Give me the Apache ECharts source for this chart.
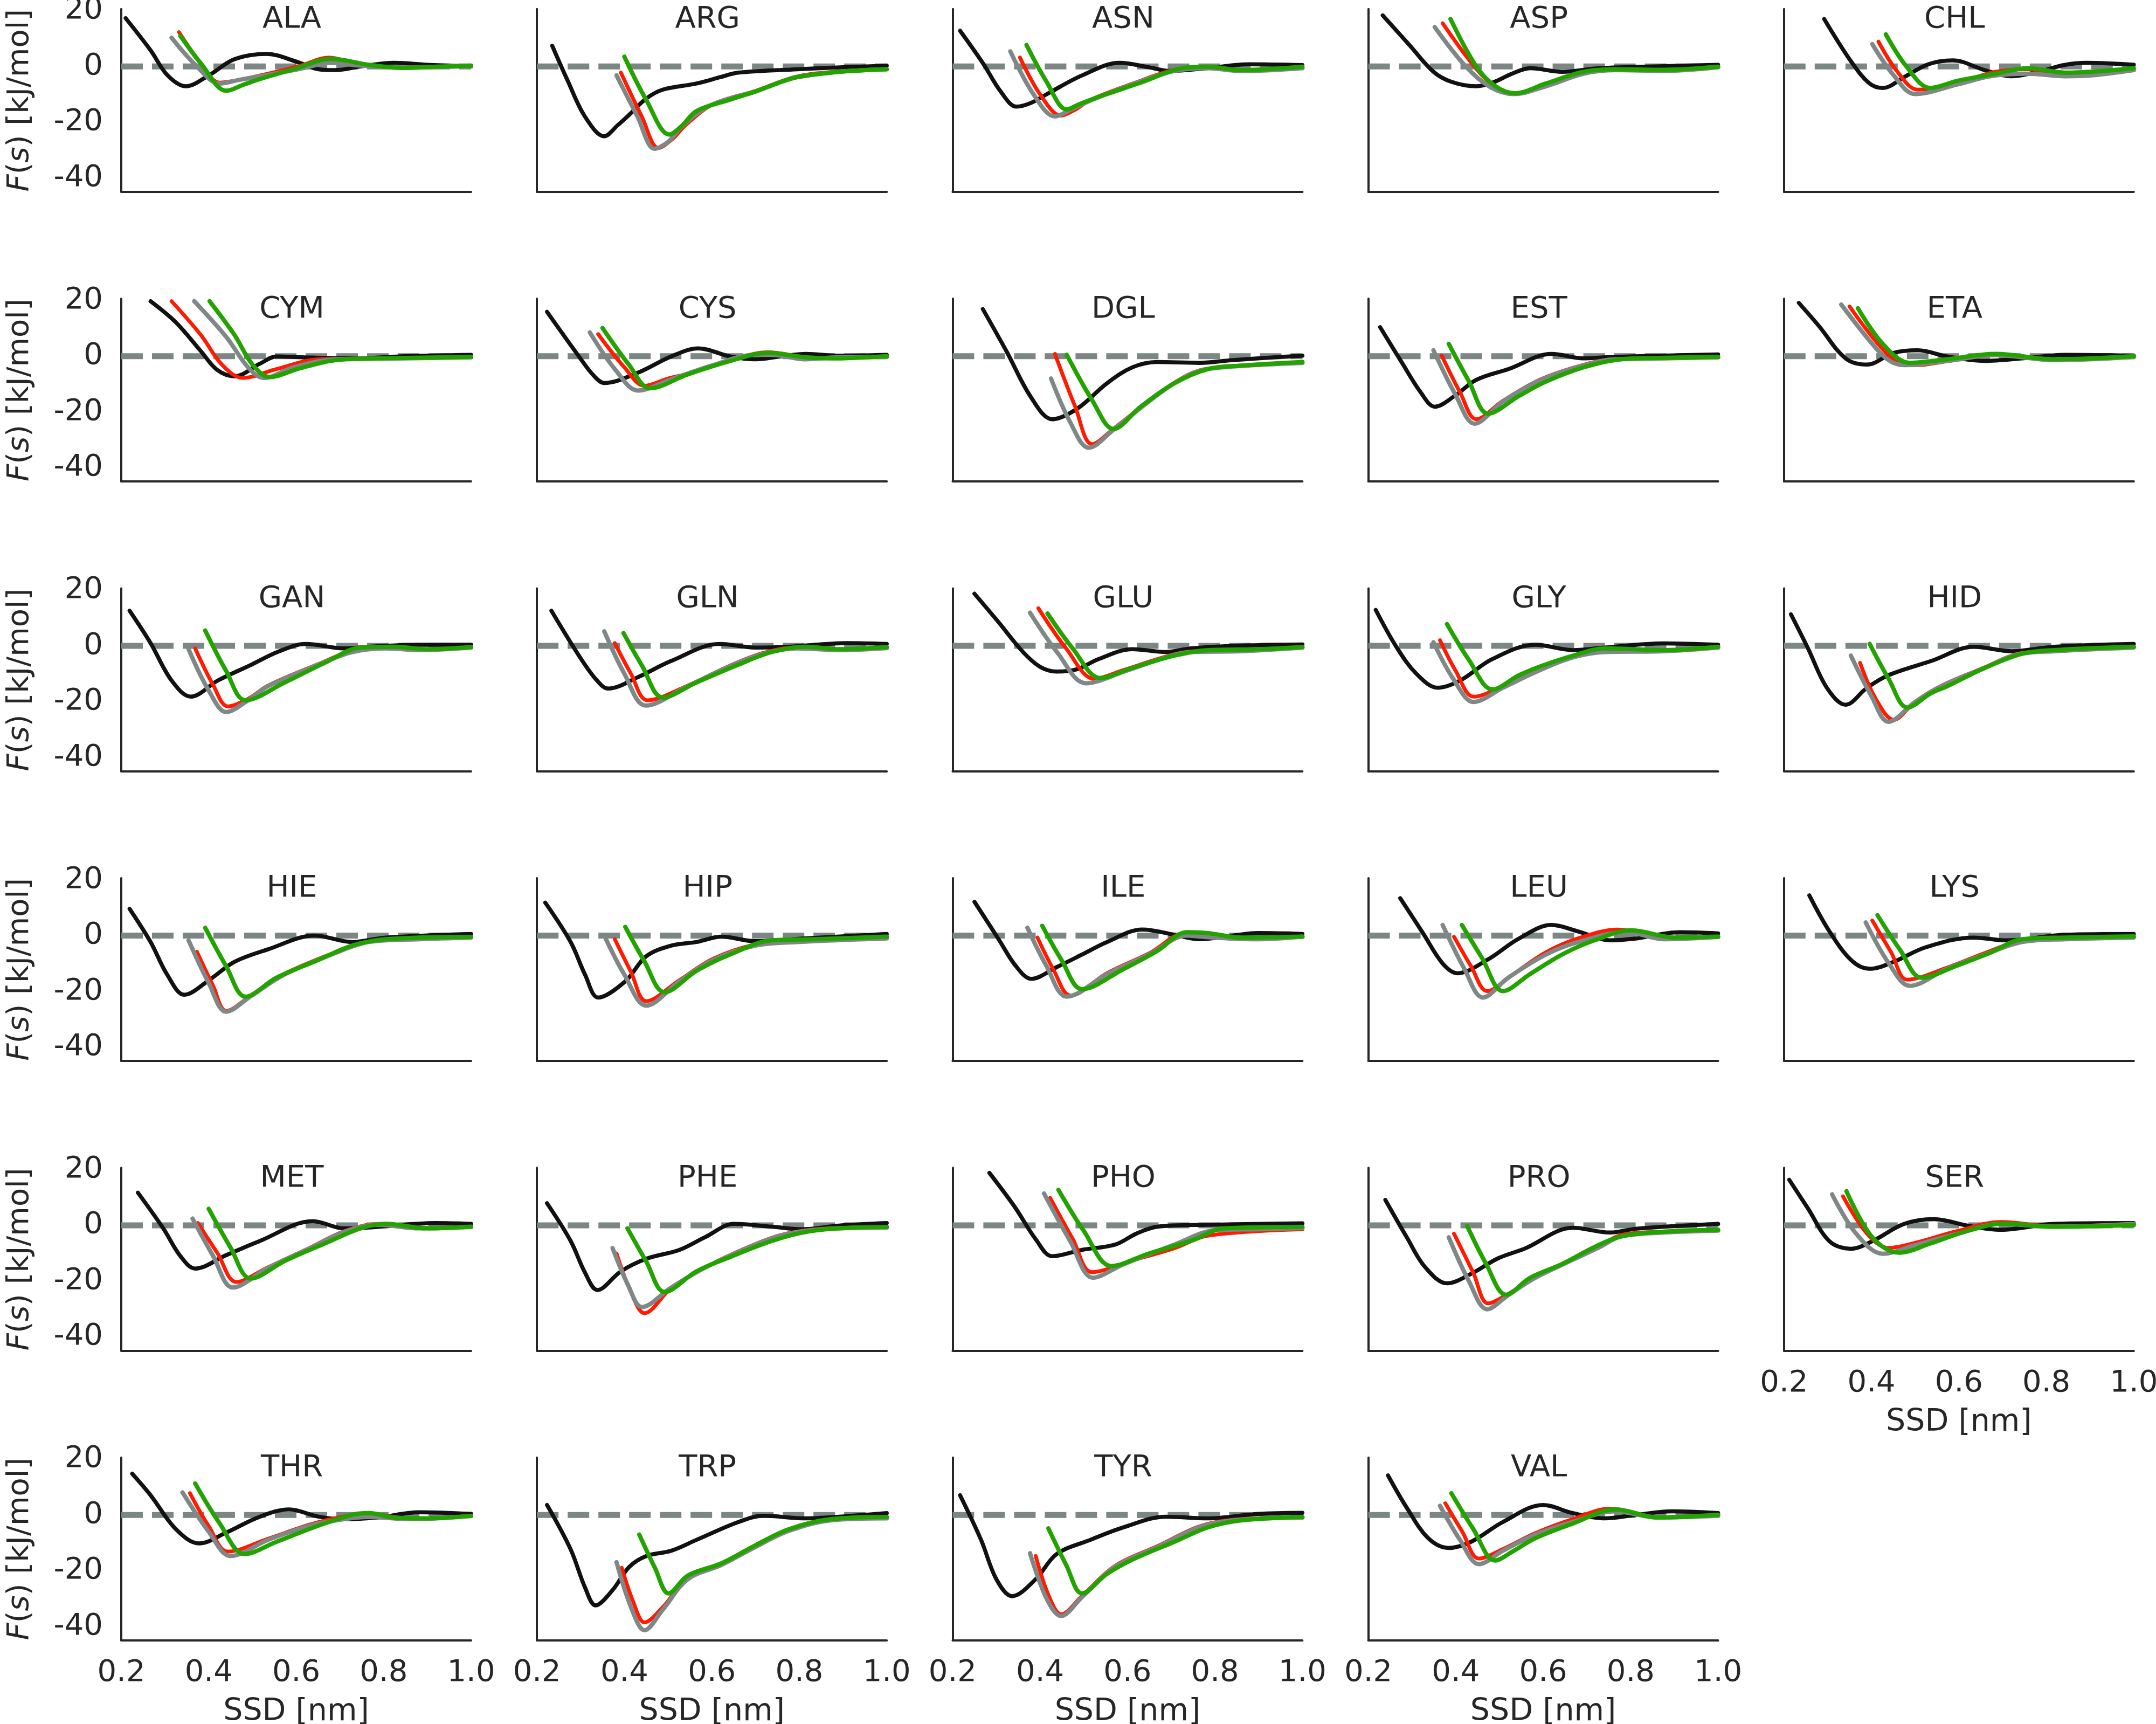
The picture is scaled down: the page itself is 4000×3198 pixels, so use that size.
<!DOCTYPE html>
<html>
<head>
<meta charset="utf-8">
<script src="https://cdn.jsdelivr.net/npm/echarts@6/dist/echarts.min.js"></script>
<style>
html,body{margin:0;padding:0;background:#fff;}
#chart{width:4000px;height:3198px;}
</style>
</head>
<body>
<div id="chart"></div>
<script>
// ---------------- data (x: SSD in nm, y: F(s) in kJ/mol) ----------------
const residues = ['ALA','ARG','ASN','ASP','CHL','CYM','CYS','DGL','EST','ETA','GAN','GLN','GLU','GLY','HID','HIE','HIP','ILE','LEU','LYS','MET','PHE','PHO','PRO','SER','THR','TRP','TYR','VAL'];
const xTicks = [0.2, 0.4, 0.6, 0.8, 1.0];
const yTicks = [-40, -20, 0, 20];
const zeroLine = [[0.2, 0], [1.0, 0]];

const ALA_black = [[0.21,17.3],[0.267,5.8],[0.306,-3.2],[0.348,-7.1],[0.40,-3.2],[0.459,2.6],[0.532,4.5],[0.603,1.6],[0.651,-1.0],[0.69,-1.3],[0.747,0],[0.824,1.3],[0.9,0.6],[1.0,0]];
const ALA_gray = [[0.315,10.3],[0.37,0.5],[0.425,-6.1],[0.47,-4.8],[0.536,-3.0],[0.61,-0.8],[0.68,1.3],[0.74,0.4],[0.843,-0.4],[0.92,-0.2],[1.0,0.1]];
const ALA_red = [[0.332,12.3],[0.38,1.5],[0.425,-5.8],[0.47,-4.8],[0.536,-2.6],[0.61,0.3],[0.675,3.2],[0.74,0.9],[0.843,-0.4],[1.0,0.2]];
const ALA_green = [[0.335,11.0],[0.385,0.5],[0.44,-8.7],[0.48,-6.5],[0.517,-4.5],[0.594,-1.0],[0.68,2.7],[0.766,0.6],[0.843,-0.5],[0.92,-0.1],[1.0,0.3]];

const ARG_black = [[0.235,7.4],[0.27,-5],[0.31,-18],[0.354,-25.0],[0.385,-21],[0.411,-17.3],[0.45,-11.5],[0.488,-8.3],[0.565,-6.1],[0.62,-3.8],[0.66,-2.2],[0.795,-1.0],[0.9,-0.3],[1.0,0.3]];
const ARG_gray = [[0.382,-3.2],[0.43,-18],[0.469,-29.5],[0.50,-27],[0.526,-22.4],[0.565,-17],[0.603,-13.5],[0.65,-11],[0.699,-9.0],[0.75,-6],[0.795,-3.8],[0.891,-1.9],[1.0,-1.0]];
const ARG_red = [[0.392,-2.2],[0.44,-18],[0.478,-29.2],[0.51,-26],[0.54,-21],[0.603,-13.5],[0.699,-8.8],[0.795,-3.6],[0.891,-1.8],[1.0,-0.9]];
const ARG_green = [[0.40,3.5],[0.45,-12],[0.503,-24.4],[0.53,-21.5],[0.565,-16],[0.641,-11.9],[0.699,-9.0],[0.75,-6],[0.795,-3.8],[0.891,-1.9],[1.0,-1.0]];

const ASN_black = [[0.217,12.8],[0.27,1],[0.31,-9],[0.346,-14.4],[0.38,-13],[0.419,-9.6],[0.496,-3.2],[0.582,1.3],[0.649,-0.3],[0.697,-1.6],[0.783,-0.6],[0.879,0.8],[1.0,0.5]];
const ASN_gray = [[0.332,5.4],[0.385,-10],[0.434,-17.9],[0.47,-15.5],[0.515,-12.2],[0.611,-6.4],[0.707,-1.6],[0.783,-0.6],[0.86,-1.6],[1.0,-0.6]];
const ASN_red = [[0.354,3.2],[0.40,-10],[0.448,-17.6],[0.48,-15.5],[0.515,-12],[0.611,-6.2],[0.707,-1.2],[0.783,-0.1],[0.86,-1.3],[1.0,-0.3]];
const ASN_green = [[0.369,7.7],[0.415,-5.5],[0.461,-15.4],[0.49,-13.5],[0.534,-10.9],[0.63,-5.8],[0.726,-0.6],[0.783,-0.1],[0.86,-1.3],[1.0,-0.1]];

const ASP_black = [[0.233,18.3],[0.294,7.7],[0.349,-1.9],[0.39,-5.5],[0.447,-7.1],[0.484,-5.8],[0.53,-2.5],[0.57,-0.6],[0.643,-1.9],[0.729,-0.6],[0.876,0.1],[1.0,0.6]];
const ASP_gray = [[0.352,14.1],[0.423,0],[0.48,-7.5],[0.533,-9.9],[0.606,-7.1],[0.692,-2.6],[0.765,-1.3],[0.876,-1.6],[1.0,-0.3]];
const ASP_red = [[0.37,15.5],[0.44,0.5],[0.49,-7.2],[0.539,-9.6],[0.606,-6.6],[0.692,-2.3],[0.765,-1.2],[0.876,-1.6],[1.0,-0.3]];
const ASP_green = [[0.388,17],[0.447,0],[0.49,-7],[0.535,-9.6],[0.606,-6.1],[0.692,-1.9],[0.765,-1.0],[0.876,-1.2],[1.0,-0.1]];

const CHL_black = [[0.292,17],[0.353,1.9],[0.395,-6],[0.426,-7.7],[0.475,-3.8],[0.53,0.8],[0.586,2.2],[0.659,-1.3],[0.72,-3.5],[0.781,-1.9],[0.84,0.5],[0.892,1.3],[1.0,0.6]];
const CHL_gray = [[0.402,8.0],[0.45,-3],[0.5,-9.9],[0.598,-6.4],[0.671,-3.5],[0.757,-2.6],[0.843,-3.5],[0.904,-3.2],[1.0,-1.3]];
const CHL_red = [[0.416,8.9],[0.46,-2],[0.506,-8.3],[0.598,-5.8],[0.683,-1.9],[0.757,-1.0],[0.843,-2.9],[1.0,-0.6]];
const CHL_green = [[0.433,11.5],[0.48,0],[0.534,-7.7],[0.598,-5.1],[0.683,-2.6],[0.757,-0.6],[0.843,-2.2],[1.0,-0.6]];

const CYM_black = [[0.267,19.7],[0.325,12.1],[0.382,1.8],[0.42,-5],[0.459,-7.2],[0.517,-2.7],[0.555,-0.1],[0.613,-0.4],[0.728,-0.8],[0.85,0],[1.0,0.5]];
const CYM_gray = [[0.367,19.7],[0.44,6.9],[0.49,-4],[0.526,-7.8],[0.594,-4.0],[0.69,-1.1],[0.85,-0.8],[1.0,-0.4]];
const CYM_red = [[0.315,19.7],[0.382,7.6],[0.43,-3],[0.478,-7.8],[0.555,-4.6],[0.651,-1.1],[0.785,-0.8],[1.0,-0.3]];
const CYM_green = [[0.402,19.7],[0.459,7.6],[0.50,-3],[0.54,-7.5],[0.603,-4.6],[0.69,-1.4],[0.785,-0.8],[1.0,-0.3]];

const CYS_black = [[0.223,15.9],[0.296,-0.1],[0.33,-7],[0.354,-9.6],[0.431,-5.9],[0.507,-0.1],[0.569,2.8],[0.642,-0.1],[0.7,-1.1],[0.76,0],[0.815,0.8],[0.891,0.2],[1.0,0.5]];
const CYS_gray = [[0.321,8.5],[0.38,-5],[0.431,-12.3],[0.507,-8.3],[0.603,-3.2],[0.699,0.5],[0.737,0.5],[0.814,-1.1],[0.891,-0.4],[1.0,-0.3]];
const CYS_red = [[0.34,7.9],[0.40,-4],[0.446,-10.6],[0.50,-8],[0.545,-6.3],[0.642,-1.5],[0.728,1.4],[0.814,-0.4],[0.872,-0.8],[1.0,0]];
const CYS_green = [[0.35,10.1],[0.41,-3],[0.459,-11.5],[0.545,-6.5],[0.642,-1.7],[0.728,1.2],[0.814,-0.4],[0.872,-0.8],[1.0,0]];

const DGL_black = [[0.269,16.9],[0.323,1.8],[0.38,-14.9],[0.428,-22.6],[0.486,-18.7],[0.553,-9.7],[0.611,-4.0],[0.668,-2.1],[0.764,-2.4],[0.841,-1.4],[1.0,0.2]];
const DGL_gray = [[0.425,-8.0],[0.47,-24],[0.511,-32.8],[0.572,-25.8],[0.649,-16.2],[0.707,-9.7],[0.764,-5.3],[0.841,-3.7],[1.0,-2.4]];
const DGL_red = [[0.434,0.8],[0.48,-18],[0.519,-31.5],[0.572,-25.5],[0.649,-16],[0.707,-9.5],[0.764,-5.1],[0.841,-3.6],[1.0,-2.2]];
const DGL_green = [[0.461,0.5],[0.52,-16],[0.568,-26.1],[0.63,-18.1],[0.707,-9.7],[0.784,-4.6],[0.86,-3.4],[1.0,-2.1]];

const EST_black = [[0.227,10.4],[0.276,-2.1],[0.32,-13],[0.352,-18.1],[0.398,-14.2],[0.447,-8.5],[0.521,-4.6],[0.619,0.8],[0.692,-0.8],[0.741,-0.4],[0.876,0.2],[1.0,0.6]];
const EST_gray = [[0.349,2.1],[0.40,-14],[0.443,-24.2],[0.508,-16.2],[0.594,-8.5],[0.692,-3.3],[0.765,-1.1],[0.876,-0.8],[1.0,-0.4]];
const EST_red = [[0.368,0.2],[0.41,-13],[0.447,-22.6],[0.508,-16],[0.594,-8.3],[0.692,-3.1],[0.765,-1.0],[0.876,-0.8],[1.0,-0.4]];
const EST_green = [[0.384,4.4],[0.43,-9],[0.474,-20.6],[0.545,-14.2],[0.606,-9.1],[0.692,-4.0],[0.778,-1.1],[0.876,-0.6],[1.0,-0.3]];

const ETA_black = [[0.234,19.1],[0.28,10.8],[0.341,-0.8],[0.39,-3.0],[0.451,1.2],[0.506,2.1],[0.573,-0.1],[0.659,-1.7],[0.745,-0.8],[0.843,0.5],[1.0,0.2]];
const ETA_gray = [[0.331,18.5],[0.402,4.4],[0.44,-1.5],[0.475,-3.2],[0.573,-1.7],[0.684,0.4],[0.818,-1.4],[1.0,-0.3]];
const ETA_red = [[0.35,17.8],[0.415,4.4],[0.46,-2],[0.506,-3.2],[0.573,-1.8],[0.684,0.5],[0.818,-1.4],[1.0,-0.3]];
const ETA_green = [[0.369,17.2],[0.426,4.4],[0.488,-2.4],[0.573,-1.1],[0.684,0.8],[0.818,-1.1],[1.0,0]];

const GAN_black = [[0.219,12.6],[0.267,1.0],[0.315,-12.4],[0.359,-18.2],[0.421,-12.4],[0.498,-6.7],[0.56,-2],[0.622,0.7],[0.709,-0.9],[0.766,-0.3],[0.881,0.4],[1.0,0.4]];
const GAN_gray = [[0.354,-1.2],[0.40,-16],[0.44,-23.7],[0.49,-19.5],[0.536,-14.4],[0.651,-6.7],[0.728,-2.2],[0.805,-0.9],[0.881,-1.5],[1.0,-0.6]];
const GAN_red = [[0.369,-0.9],[0.41,-14],[0.444,-21.7],[0.49,-19],[0.536,-14.2],[0.651,-6.5],[0.728,-1.8],[0.805,-0.5],[0.881,-1.3],[1.0,-0.5]];
const GAN_green = [[0.392,5.5],[0.44,-9],[0.484,-19.5],[0.574,-13.1],[0.67,-5.7],[0.747,-0.6],[0.824,-0.3],[0.9,-1.2],[1.0,-0.4]];

const GLN_black = [[0.233,12.6],[0.296,-3.5],[0.335,-12],[0.363,-15.3],[0.431,-11.2],[0.507,-5.4],[0.618,0.7],[0.699,-0.6],[0.776,-0.3],[0.91,1.0],[1.0,0.7]];
const GLN_gray = [[0.354,5.2],[0.40,-10],[0.449,-21.4],[0.545,-14.4],[0.641,-7.3],[0.718,-2.8],[0.795,-0.9],[0.891,-1.5],[1.0,-0.8]];
const GLN_red = [[0.378,1.0],[0.415,-10],[0.453,-19.5],[0.545,-14.2],[0.641,-7.1],[0.718,-2.5],[0.795,-0.5],[0.891,-1.3],[1.0,-0.6]];
const GLN_green = [[0.398,4.6],[0.44,-7],[0.488,-18.5],[0.565,-13.1],[0.661,-6.7],[0.737,-2.2],[0.814,-0.3],[0.891,-1.2],[1.0,-0.4]];

const GLU_black = [[0.25,18.7],[0.304,8.7],[0.361,-2.2],[0.40,-7.5],[0.438,-9.2],[0.486,-8.3],[0.534,-4.7],[0.611,-1.2],[0.688,-2.2],[0.745,-0.9],[0.86,0.1],[1.0,0.5]];
const GLU_gray = [[0.377,11.9],[0.44,-2.5],[0.505,-13.4],[0.592,-9.2],[0.688,-4.1],[0.745,-2.2],[0.86,-1.9],[1.0,-0.6]];
const GLU_red = [[0.396,13.5],[0.46,-1],[0.524,-11.8],[0.592,-8.6],[0.688,-3.8],[0.745,-2],[0.86,-1.6],[1.0,-0.5]];
const GLU_green = [[0.417,11.6],[0.475,-1],[0.538,-11.5],[0.611,-7.9],[0.707,-3.5],[0.784,-1.5],[0.899,-1.2],[1.0,-0.4]];

const GLY_black = [[0.217,12.9],[0.264,-0.3],[0.31,-10],[0.359,-15.0],[0.41,-12.4],[0.484,-4.7],[0.582,0.4],[0.668,-1.5],[0.741,-0.6],[0.876,0.9],[1.0,0.4]];
const GLY_gray = [[0.349,1.3],[0.395,-12],[0.441,-20.1],[0.508,-15.0],[0.594,-8.6],[0.668,-4.1],[0.741,-2.2],[0.876,-1.9],[1.0,-0.6]];
const GLY_red = [[0.364,2.0],[0.40,-9],[0.441,-18.2],[0.508,-14.5],[0.594,-8.3],[0.668,-3.6],[0.741,-1.5],[0.876,-1.6],[1.0,-0.5]];
const GLY_green = [[0.38,7.8],[0.43,-5],[0.484,-15.6],[0.545,-10.5],[0.594,-7.3],[0.668,-3.5],[0.741,-0.9],[0.876,-1.5],[1.0,-0.3]];

const HID_black = [[0.216,11.3],[0.255,-0.9],[0.298,-15.0],[0.341,-21.1],[0.39,-15.0],[0.439,-10.5],[0.537,-5.4],[0.634,-0.3],[0.72,-1.9],[0.818,-0.3],[1.0,0.7]];
const HID_gray = [[0.353,-3.5],[0.40,-18],[0.439,-27.2],[0.5,-20.1],[0.561,-14.4],[0.659,-7.9],[0.733,-3.1],[0.818,-1.9],[1.0,-0.6]];
const HID_red = [[0.374,-6.1],[0.41,-19],[0.451,-26.5],[0.5,-20],[0.561,-14.2],[0.659,-7.7],[0.733,-2.9],[0.818,-1.7],[1.0,-0.5]];
const HID_green = [[0.396,0.7],[0.44,-12],[0.482,-22.1],[0.537,-16.9],[0.574,-14.4],[0.659,-7.9],[0.745,-2.8],[0.818,-1.5],[1.0,-0.3]];

const HIE_black = [[0.219,9.6],[0.267,-2.3],[0.305,-14],[0.344,-21.2],[0.402,-15.8],[0.459,-9.4],[0.536,-4.9],[0.642,0],[0.728,-2.3],[0.805,-0.7],[1.0,0.6]];
const HIE_gray = [[0.354,-1.7],[0.40,-17],[0.44,-27.3],[0.498,-21.5],[0.575,-13.8],[0.69,-6.2],[0.766,-2.3],[0.881,-1.3],[1.0,-0.7]];
const HIE_red = [[0.373,-5.8],[0.41,-18],[0.44,-27.0],[0.498,-21.3],[0.575,-13.6],[0.69,-6],[0.766,-2.1],[0.881,-1.2],[1.0,-0.6]];
const HIE_green = [[0.392,2.8],[0.44,-11],[0.484,-21.9],[0.555,-15.1],[0.651,-8.7],[0.728,-3.6],[0.805,-1.3],[1.0,-0.5]];

const HIP_black = [[0.219,11.8],[0.277,-2.3],[0.31,-14],[0.34,-22.2],[0.402,-16.4],[0.45,-7.4],[0.507,-3.6],[0.565,-2.3],[0.622,-0.4],[0.699,-2.0],[0.814,-1.0],[1.0,0.6]];
const HIP_gray = [[0.357,-1.0],[0.40,-14],[0.45,-25.1],[0.526,-16.4],[0.603,-8.7],[0.699,-3.6],[0.795,-2.3],[1.0,-1.0]];
const HIP_red = [[0.378,-1.3],[0.415,-13],[0.45,-23.5],[0.526,-16],[0.603,-8.3],[0.699,-3.2],[0.795,-2.0],[1.0,-0.8]];
const HIP_green = [[0.402,3.1],[0.445,-9],[0.492,-20.3],[0.565,-12.6],[0.641,-6.8],[0.737,-1.7],[0.833,-1.3],[1.0,-0.4]];

const ILE_black = [[0.25,12.1],[0.304,-1.0],[0.345,-11],[0.38,-15.5],[0.438,-11.3],[0.496,-6.8],[0.553,-2.3],[0.634,2.2],[0.707,0.3],[0.764,-1.3],[0.83,-0.2],[0.899,0.9],[1.0,0.6]];
const ILE_gray = [[0.371,2.8],[0.415,-11],[0.461,-21.9],[0.553,-13.8],[0.649,-6.8],[0.736,0],[0.784,-0.6],[0.899,-1.3],[1.0,-0.4]];
const ILE_red = [[0.394,-0.7],[0.43,-12],[0.47,-21.5],[0.553,-13.5],[0.649,-6.4],[0.736,1.0],[0.784,0.5],[0.86,-0.9],[1.0,-0.4]];
const ILE_green = [[0.405,3.5],[0.45,-9],[0.496,-19.2],[0.592,-11.9],[0.668,-5.5],[0.736,1.2],[0.784,0.9],[0.86,-0.7],[1.0,-0.4]];

const LEU_black = [[0.273,13.4],[0.325,0.9],[0.37,-10],[0.404,-13.5],[0.472,-8.7],[0.545,-1.0],[0.619,3.8],[0.68,1.5],[0.753,-1.7],[0.814,-1.0],[0.912,1.2],[1.0,0.8]];
const LEU_gray = [[0.37,3.8],[0.42,-12],[0.462,-22.2],[0.52,-15.1],[0.606,-6.8],[0.68,-2.3],[0.79,1.2],[0.876,-1.3],[1.0,-0.5]];
const LEU_red = [[0.396,-0.4],[0.435,-11],[0.472,-19.9],[0.53,-14],[0.606,-6],[0.68,-1],[0.771,2.2],[0.876,-1.1],[1.0,-0.4]];
const LEU_green = [[0.414,3.8],[0.46,-8],[0.508,-19.9],[0.57,-13.8],[0.643,-6.8],[0.717,-1.7],[0.802,1.9],[0.9,-0.7],[1.0,-0.4]];

const LYS_black = [[0.258,14.4],[0.304,1.5],[0.355,-9],[0.396,-11.9],[0.451,-9.4],[0.524,-4.2],[0.634,-0.7],[0.708,-1.7],[0.843,0.3],[1.0,0.6]];
const LYS_gray = [[0.387,4.7],[0.44,-10],[0.488,-18.0],[0.573,-11.9],[0.659,-6.8],[0.745,-2.3],[0.843,-1.3],[1.0,-0.7]];
const LYS_red = [[0.402,5.4],[0.445,-6],[0.482,-15.8],[0.573,-11.5],[0.659,-6.3],[0.745,-1.8],[0.843,-1],[1.0,-0.5]];
const LYS_green = [[0.414,7.3],[0.465,-5],[0.515,-15.1],[0.598,-10.6],[0.671,-6.2],[0.745,-1.3],[0.843,-0.7],[1.0,-0.3]];

const MET_black = [[0.238,11.7],[0.296,-1.1],[0.335,-11],[0.369,-15.5],[0.44,-10.7],[0.517,-5.6],[0.638,1.5],[0.709,-1.1],[0.766,-0.8],[0.92,0.8],[1.0,0.5]];
const MET_gray = [[0.363,2.4],[0.41,-11],[0.455,-22.3],[0.536,-15.2],[0.632,-8.2],[0.709,-2.4],[0.786,0.2],[0.882,-1.1],[1.0,-0.6]];
const MET_red = [[0.375,0.8],[0.42,-10],[0.463,-20.3],[0.536,-15],[0.632,-8],[0.709,-2.2],[0.786,0.4],[0.882,-1],[1.0,-0.5]];
const MET_green = [[0.40,5.9],[0.45,-8],[0.496,-19.1],[0.575,-12.7],[0.67,-6.2],[0.747,-1.1],[0.805,0.5],[0.9,-1.1],[1.0,-0.5]];

const PHE_black = [[0.223,7.9],[0.277,-5.6],[0.31,-17],[0.338,-23.2],[0.392,-16.5],[0.45,-12.0],[0.526,-8.8],[0.584,-4.3],[0.651,0.5],[0.737,-0.5],[0.805,-1.4],[0.891,-0.1],[1.0,0.8]];
const PHE_gray = [[0.373,-8.2],[0.41,-22],[0.44,-29.3],[0.507,-22.3],[0.584,-15.2],[0.661,-9.5],[0.757,-3.7],[0.853,-1.4],[1.0,-0.8]];
const PHE_red = [[0.382,-10.1],[0.415,-24],[0.446,-31.5],[0.507,-22.5],[0.584,-15.2],[0.661,-9.3],[0.757,-3.5],[0.853,-1.2],[1.0,-0.7]];
const PHE_green = [[0.407,-1.1],[0.45,-13],[0.492,-23.9],[0.565,-16.5],[0.641,-11.4],[0.737,-5.6],[0.814,-2.4],[0.891,-1.1],[1.0,-0.6]];

const PHO_black = [[0.284,18.8],[0.342,6.6],[0.39,-5.0],[0.428,-11.1],[0.496,-8.8],[0.572,-6.9],[0.62,-3],[0.668,-0.5],[0.784,0.2],[1.0,0.7]];
const PHO_gray = [[0.409,11.4],[0.47,-6],[0.521,-18.8],[0.592,-13.9],[0.707,-6.9],[0.803,-1.7],[0.899,-1.4],[1.0,-1.0]];
const PHO_red = [[0.423,9.8],[0.475,-5],[0.519,-16.8],[0.611,-12.6],[0.707,-8.2],[0.784,-3.7],[1.0,-1.4]];
const PHO_green = [[0.442,12.7],[0.50,-2],[0.563,-14.6],[0.649,-10.1],[0.745,-5.6],[0.822,-1.1],[1.0,-0.6]];

const PRO_black = [[0.239,9.1],[0.288,-4.3],[0.33,-15],[0.38,-20.8],[0.435,-17.4],[0.496,-11.9],[0.557,-8.4],[0.668,-0.9],[0.753,-2.6],[0.814,-1.2],[1.0,0.5]];
const PRO_gray = [[0.384,-4.3],[0.43,-20],[0.472,-30.1],[0.521,-24.9],[0.582,-18.8],[0.655,-13.3],[0.729,-7.8],[0.778,-4.0],[0.876,-2.6],[1.0,-1.9]];
const PRO_red = [[0.396,-3.0],[0.44,-17],[0.474,-28.0],[0.521,-24.5],[0.582,-18.5],[0.655,-13],[0.729,-7.5],[0.778,-3.5],[0.876,-2.3],[1.0,-1.7]];
const PRO_green = [[0.426,-0.2],[0.47,-14],[0.515,-24.9],[0.57,-18.8],[0.643,-13.9],[0.717,-7.8],[0.778,-4.0],[0.876,-2.3],[1.0,-1.6]];

const SER_black = [[0.212,16.3],[0.255,6.0],[0.304,-5.7],[0.353,-8.4],[0.402,-5.7],[0.475,0.5],[0.543,2.2],[0.622,-0.2],[0.696,-1.6],[0.818,0.5],[1.0,0.8]];
const SER_gray = [[0.31,11.1],[0.365,-3.0],[0.426,-10.2],[0.5,-7.1],[0.598,-3.0],[0.696,0.5],[0.818,-0.5],[1.0,0.5]];
const SER_red = [[0.335,10.4],[0.39,-3],[0.439,-8.1],[0.5,-6.3],[0.598,-2],[0.696,1.2],[0.818,-0.4],[1.0,0.5]];
const SER_green = [[0.343,12.2],[0.402,-4.3],[0.463,-9.8],[0.537,-6.4],[0.622,-1.9],[0.702,0.6],[0.818,-0.5],[1.0,0.1]];

const THR_black = [[0.225,14.8],[0.267,7.1],[0.325,-5.1],[0.378,-10.2],[0.44,-6.3],[0.517,-0.6],[0.584,2.0],[0.651,-0.6],[0.709,-1.5],[0.786,-0.9],[0.882,1.0],[1.0,0.4]];
const THR_gray = [[0.34,8.1],[0.40,-6],[0.45,-14.7],[0.536,-8.9],[0.632,-3.8],[0.709,-1.5],[0.766,-0.7],[0.862,-1.5],[1.0,-0.4]];
const THR_red = [[0.357,7.8],[0.40,-4],[0.444,-13.1],[0.536,-8.5],[0.632,-3.4],[0.709,-0.5],[0.766,0.4],[0.862,-1.3],[1.0,-0.3]];
const THR_green = [[0.369,11.3],[0.425,-3],[0.482,-14.0],[0.555,-9.6],[0.651,-3.8],[0.728,0.1],[0.766,0.7],[0.824,-0.9],[0.9,-1.2],[1.0,-0.3]];

const TRP_black = [[0.223,3.6],[0.277,-12.3],[0.31,-26],[0.334,-32.4],[0.373,-26.9],[0.411,-18.6],[0.45,-14.7],[0.507,-12.8],[0.565,-8.9],[0.661,-2.5],[0.718,-0.3],[0.814,-1.2],[0.891,-0.6],[1.0,0.7]];
const TRP_gray = [[0.382,-16.9],[0.415,-33],[0.446,-41.3],[0.488,-33.9],[0.545,-23.0],[0.622,-17.9],[0.699,-11.5],[0.776,-5.7],[0.872,-1.9],[1.0,-1.2]];
const TRP_red = [[0.394,-18.9],[0.42,-31],[0.446,-38.5],[0.488,-33],[0.545,-22.5],[0.622,-17.5],[0.699,-11.2],[0.776,-5.4],[0.872,-1.7],[1.0,-1.0]];
const TRP_green = [[0.434,-7.0],[0.47,-19],[0.501,-28.1],[0.545,-21.7],[0.622,-17.3],[0.699,-10.9],[0.776,-5.1],[0.872,-1.5],[1.0,-0.7]];

const TYR_black = [[0.217,7.1],[0.265,-8.9],[0.30,-23],[0.336,-29.1],[0.39,-23.0],[0.438,-14.0],[0.515,-8.9],[0.591,-4.4],[0.688,-0.6],[0.784,-1.2],[0.899,0.4],[1.0,0.8]];
const TYR_gray = [[0.377,-13.7],[0.415,-30],[0.448,-36.2],[0.496,-29.4],[0.572,-18.5],[0.668,-11.5],[0.764,-4.4],[0.841,-1.9],[1.0,-0.9]];
const TYR_red = [[0.39,-14.7],[0.42,-29],[0.448,-35.6],[0.496,-29],[0.572,-18.2],[0.668,-11.2],[0.764,-4.1],[0.841,-1.7],[1.0,-0.8]];
const TYR_green = [[0.419,-4.8],[0.46,-18],[0.496,-28.1],[0.553,-21.1],[0.611,-16.0],[0.707,-9.6],[0.784,-4.4],[0.86,-1.9],[1.0,-0.7]];

const VAL_black = [[0.245,14.2],[0.288,2.6],[0.337,-8.3],[0.384,-11.8],[0.435,-9.6],[0.508,-2.5],[0.6,3.6],[0.667,0.7],[0.741,-1.2],[0.814,0.1],[0.894,1.3],[1.0,0.7]];
const VAL_gray = [[0.364,3.3],[0.41,-9],[0.453,-17.6],[0.508,-12.8],[0.582,-7.0],[0.667,-2.5],[0.765,1.3],[0.863,-0.9],[1.0,-0.3]];
const VAL_red = [[0.376,4.2],[0.415,-6],[0.453,-15.6],[0.508,-12.2],[0.582,-6.5],[0.667,-1.5],[0.753,2.3],[0.863,-0.9],[1.0,-0.2]];
const VAL_green = [[0.39,7.8],[0.44,-5],[0.49,-16.3],[0.533,-12.8],[0.582,-8.3],[0.667,-3.1],[0.765,2.0],[0.863,-0.9],[1.0,0.1]];

// table of curves per residue, in drawing order: [black, red, gray, green]
const curveTable = {
  ALA:[ALA_black,ALA_red,ALA_gray,ALA_green], ARG:[ARG_black,ARG_red,ARG_gray,ARG_green],
  ASN:[ASN_black,ASN_red,ASN_gray,ASN_green], ASP:[ASP_black,ASP_red,ASP_gray,ASP_green],
  CHL:[CHL_black,CHL_red,CHL_gray,CHL_green], CYM:[CYM_black,CYM_red,CYM_gray,CYM_green],
  CYS:[CYS_black,CYS_red,CYS_gray,CYS_green], DGL:[DGL_black,DGL_red,DGL_gray,DGL_green],
  EST:[EST_black,EST_red,EST_gray,EST_green], ETA:[ETA_black,ETA_red,ETA_gray,ETA_green],
  GAN:[GAN_black,GAN_red,GAN_gray,GAN_green], GLN:[GLN_black,GLN_red,GLN_gray,GLN_green],
  GLU:[GLU_black,GLU_red,GLU_gray,GLU_green], GLY:[GLY_black,GLY_red,GLY_gray,GLY_green],
  HID:[HID_black,HID_red,HID_gray,HID_green], HIE:[HIE_black,HIE_red,HIE_gray,HIE_green],
  HIP:[HIP_black,HIP_red,HIP_gray,HIP_green], ILE:[ILE_black,ILE_red,ILE_gray,ILE_green],
  LEU:[LEU_black,LEU_red,LEU_gray,LEU_green], LYS:[LYS_black,LYS_red,LYS_gray,LYS_green],
  MET:[MET_black,MET_red,MET_gray,MET_green], PHE:[PHE_black,PHE_red,PHE_gray,PHE_green],
  PHO:[PHO_black,PHO_red,PHO_gray,PHO_green], PRO:[PRO_black,PRO_red,PRO_gray,PRO_green],
  SER:[SER_black,SER_red,SER_gray,SER_green], THR:[THR_black,THR_red,THR_gray,THR_green],
  TRP:[TRP_black,TRP_red,TRP_gray,TRP_green], TYR:[TYR_black,TYR_red,TYR_gray,TYR_green],
  VAL:[VAL_black,VAL_red,VAL_gray,VAL_green]
};

// ---------------- layout / style ----------------
const FONT = 'DejaVu Sans';
const TXT = '#262626';
const COL_LEFT = 225, COL_STEP = 771.2, PANEL_W = 649;
const ROW_TOP = 16.7, ROW_STEP = 537.4, PANEL_H = 339;
const Y_MIN = -44.9, Y_MAX = 20.6;
const curveStyles = [
  {color:'#111111', width:7.5},
  {color:'#ff1a00', width:7},
  {color:'#7f8787', width:8},
  {color:'#22a300', width:8}
];

const grids = [], xAxes = [], yAxes = [], series = [], titles = [];
residues.forEach((name, i) => {
  const r = Math.floor(i / 5), c = i % 5;
  const left = COL_LEFT + c * COL_STEP;
  const top = ROW_TOP + r * ROW_STEP;
  const bottomLabels = (r === 5) || (r === 4 && c === 4);
  const leftLabels = (c === 0);
  grids.push({left: left, top: top, width: PANEL_W, height: PANEL_H, containLabel: false, outerBoundsMode: 'none'});
  xAxes.push({
    type: 'value', gridIndex: i, min: 0.2, max: 1.0,
    axisLine: {show: true, onZero: false, lineStyle: {color: '#262626', width: 4}},
    axisTick: {show: false}, splitLine: {show: false},
    axisLabel: {show: bottomLabels, customValues: xTicks, formatter: v => v.toFixed(1),
      fontSize: 56, fontFamily: FONT, color: TXT, margin: 33, showMinLabel: true, showMaxLabel: true},
    name: bottomLabels ? 'SSD [nm]' : '', nameLocation: 'middle', nameGap: 105,
    nameTextStyle: {fontSize: 57, fontFamily: FONT, color: TXT}
  });
  yAxes.push({
    type: 'value', gridIndex: i, min: Y_MIN, max: Y_MAX,
    axisLine: {show: true, onZero: false, lineStyle: {color: '#262626', width: 4}},
    axisTick: {show: false}, splitLine: {show: false},
    axisLabel: {show: leftLabels, customValues: yTicks, fontSize: 56, fontFamily: FONT, color: TXT, margin: 34},
    name: leftLabels ? '{i|F}({i|s}) [kJ/mol]' : '', nameLocation: 'middle', nameGap: 160, nameRotate: 90,
    nameTextStyle: {fontSize: 56, fontFamily: FONT, color: TXT,
      rich: {i: {fontStyle: 'italic', fontSize: 56, fontFamily: FONT, color: TXT}}}
  });
  titles.push({
    text: name, left: left + PANEL_W / 2 - 8, top: top - 8, textAlign: 'center', padding: 0,
    textStyle: {fontSize: 56, fontFamily: FONT, fontWeight: 'normal', color: TXT}
  });
  series.push({
    type: 'line', xAxisIndex: i, yAxisIndex: i, data: zeroLine, showSymbol: false, silent: true,
    lineStyle: {color: '#7c8685', width: 11, type: [40, 17]}, z: 1
  });
  curveTable[name].forEach((pts, k) => {
    series.push({
      type: 'line', xAxisIndex: i, yAxisIndex: i, data: pts, smooth: 0.35,
      showSymbol: false, silent: true, clip: true,
      lineStyle: {color: curveStyles[k].color, width: curveStyles[k].width, cap: 'round', join: 'round'},
      z: 2 + k
    });
  });
});

const chart = echarts.init(document.getElementById('chart'), null, {renderer: 'canvas', width: 4000, height: 3198});
chart.setOption({
  animation: false,
  backgroundColor: '#ffffff',
  title: titles,
  grid: grids,
  xAxis: xAxes,
  yAxis: yAxes,
  series: series
});
</script>
</body>
</html>
